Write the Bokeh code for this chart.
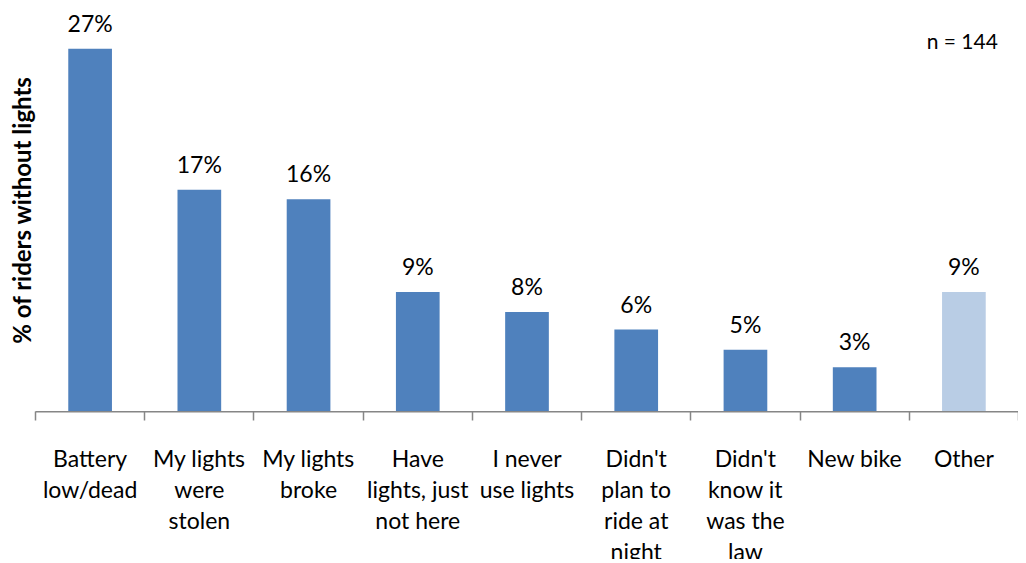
from bokeh.plotting import figure
from bokeh.layouts import column
from bokeh.models import (FactorRange, Range1d, LinearAxis, FixedTicker,
                          Label, ColumnDataSource)
from bokeh.core.properties import value
from bokeh.embed import file_html
from bokeh.resources import INLINE

categories = ["Battery low/dead", "My lights were stolen", "My lights broke",
              "Have lights, just not here", "I never use lights", "Didn't plan to ride at night",
              "Didn't know it was the law", "New bike", "Other"]
category_lines = [["Battery", "low/dead"], ["My lights", "were", "stolen"], ["My lights", "broke"],
                  ["Have", "lights, just", "not here"], ["I never", "use lights"],
                  ["Didn't", "plan to", "ride at", "night"], ["Didn't", "know it", "was the", "law"],
                  ["New bike"], ["Other"]]
values = [27.0, 16.5, 15.8, 8.9, 7.4, 6.1, 4.6, 3.3, 8.9]
value_labels = ["27%", "17%", "16%", "9%", "8%", "6%", "5%", "3%", "9%"]
colors = ["#4F81BD"] * 8 + ["#B9CDE5"]
n_text = "n =  144"

FONT = "Lato"
FW = 983          # frame width
LEFT = 35
TOP_H = 403
BOT_H = 148
FIRST_LINE = 46   # px from axis line to first label line centre
LINE_STEP = 31    # px between label lines

xr = FactorRange(factors=categories)
src = ColumnDataSource(dict(cat=categories, val=values, lab=value_labels, col=colors))

# ---------- bars ----------
p = figure(x_range=xr, y_range=Range1d(0, 30),
           frame_width=FW, frame_height=TOP_H, output_backend="svg", toolbar_location=None,
           x_axis_location=None, y_axis_location="left",
           min_border_top=8, min_border_right=0, min_border_left=LEFT, min_border_bottom=0)
p.outline_line_color = None
p.xgrid.grid_line_color = None
p.ygrid.grid_line_color = None

p.vbar(x="cat", top="val", width=0.4, fill_color="col", line_color=None, source=src)
p.text(x="cat", y="val", text="lab", y_offset=-26, text_align="center",
       text_baseline="middle", text_font=value(FONT), text_font_size="23px",
       text_color="#000000", source=src)

ya = p.yaxis[0]
ya.ticker = FixedTicker(ticks=[])
ya.axis_line_color = None
ya.major_tick_line_color = None
ya.minor_tick_line_color = None
ya.axis_label = "% of riders without lights"
ya.axis_label_text_font = FONT
ya.axis_label_text_font_style = "bold"
ya.axis_label_text_font_size = "24px"
ya.axis_label_text_color = "#000000"
ya.axis_label_standoff = 0

p.add_layout(Label(x=8.86, y=27.6, text=n_text, text_align="right",
                   text_baseline="middle", text_font=FONT, text_font_size="21px",
                   text_color="#000000"))

# ---------- category axis strip ----------
span = BOT_H / LINE_STEP
y_top = FIRST_LINE / LINE_STEP
q = figure(x_range=xr, y_range=Range1d(y_top - span, y_top),
           frame_width=FW, frame_height=BOT_H, output_backend="svg", toolbar_location=None,
           x_axis_location=None, y_axis_location=None,
           min_border_top=0, min_border_right=0, min_border_left=LEFT, min_border_bottom=0)
q.outline_line_color = None
q.xgrid.grid_line_color = None
q.ygrid.grid_line_color = None

bounds = list(range(len(categories) + 1))
tick_axis = LinearAxis(ticker=FixedTicker(ticks=bounds),
                       major_label_overrides={b: "" for b in bounds},
                       major_tick_out=0, major_tick_in=9, major_label_standoff=0,
                       axis_line_color="#868686", axis_line_width=2,
                       major_tick_line_color="#868686", major_tick_line_width=1.5,
                       minor_tick_line_color=None, major_label_text_font_size="1px")
q.add_layout(tick_axis, "above")

lc, lt, ly = [], [], []
for c, lines in zip(categories, category_lines):
    for k, t in enumerate(lines):
        lc.append(c)
        lt.append(t)
        ly.append(-k)
lab_src = ColumnDataSource(dict(cat=lc, txt=lt, line=ly))
q.text(x="cat", y="line", text="txt", source=lab_src, text_align="center",
       text_baseline="middle", text_font=value(FONT), text_font_size="23px",
       text_color="#000000")

layout = column(p, q, spacing=0)
open("out.html", "w").write(file_html(layout, INLINE))
